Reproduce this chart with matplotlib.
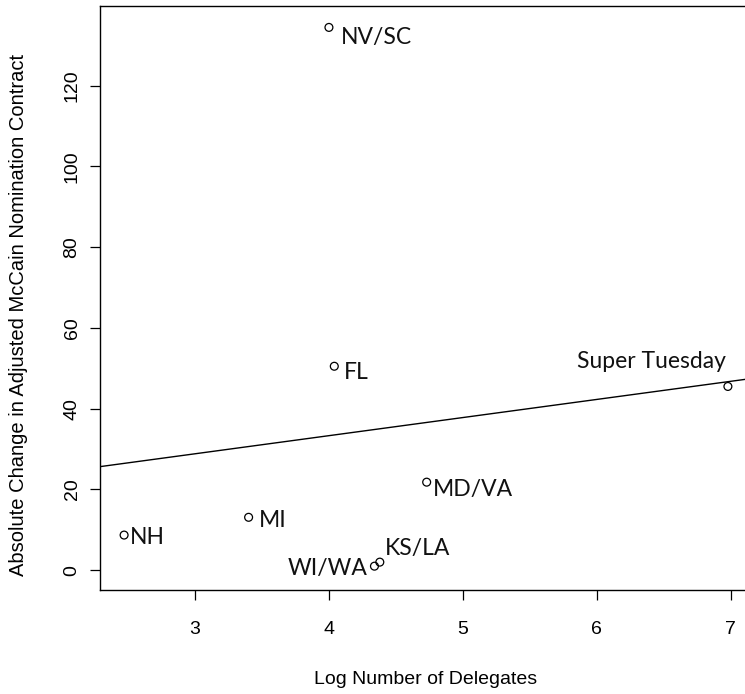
import numpy as np
import matplotlib
matplotlib.use("Agg")
import matplotlib.pyplot as plt

# Data
labels = ["NH", "MI", "WI/WA", "KS/LA", "MD/VA", "FL", "NV/SC", "Super Tuesday"]
log_delegates = [2.47, 3.40, 4.34, 4.38, 4.73, 4.04, 4.00, 6.98]
abs_change = [8.7, 13.1, 1.0, 2.0, 21.8, 50.5, 134.4, 45.5]
x_ticks = [3, 4, 5, 6, 7]
y_ticks = [0, 20, 40, 60, 80, 100, 120]

# label placement (pixel offsets, alignment)
label_offsets = {
    "NH": (6, -2, "left"),
    "MI": (10, -3, "left"),
    "WI/WA": (-7, -2, "right"),
    "KS/LA": (5, 14, "left"),
    "MD/VA": (6, -7, "left"),
    "FL": (10, -6, "left"),
    "NV/SC": (12, -10, "left"),
    "Super Tuesday": (-2, 25, "right"),
}

W, H = 745, 694
fig = plt.figure(figsize=(W / 100, H / 100), dpi=100)
left, right, top, bottom = 100, 752, 6, 590
ax = fig.add_axes([left / W, (H - bottom) / H, (right - left) / W, (bottom - top) / H])

ax.scatter(log_delegates, abs_change, s=32, facecolors="none", edgecolors="black",
           linewidths=0.9, zorder=3)

slope, intercept = np.polyfit(log_delegates, abs_change, 1)
ax.axline((0, intercept), slope=slope, color="black", lw=1.0)

px = 72 / 100  # pixels to points
for lab, x, y in zip(labels, log_delegates, abs_change):
    dx, dy, ha = label_offsets[lab]
    ax.annotate(lab, (x, y), xytext=(dx * px, dy * px), textcoords="offset points",
                ha=ha, va="center", fontsize=16.5, family="Lato", color="#111111")

ax.set_xlim(2.29, 7.16)
ax.set_ylim(-4.9, 139.7)
ax.set_xticks(x_ticks)
ax.set_yticks(y_ticks)
ax.set_xticklabels([str(t) for t in x_ticks], family="Liberation Sans", fontsize=14)
ax.set_yticklabels([str(t) for t in y_ticks], family="Liberation Sans", fontsize=14,
                   rotation=90, va="center")
ax.tick_params(direction="out", length=7, width=0.9, pad=15)
ax.tick_params(axis="y", pad=7)
for s in ax.spines.values():
    s.set_linewidth(1.0)

ax.set_xlabel("Log Number of Delegates", family="Liberation Sans", fontsize=14, labelpad=24)
fig.text(19 / W, 1 - 315 / H, "Absolute Change in Adjusted McCain Nomination Contract",
         rotation=90, ha="center", va="center", family="Liberation Sans", fontsize=14.5)

fig.savefig("out.png", dpi=100)
